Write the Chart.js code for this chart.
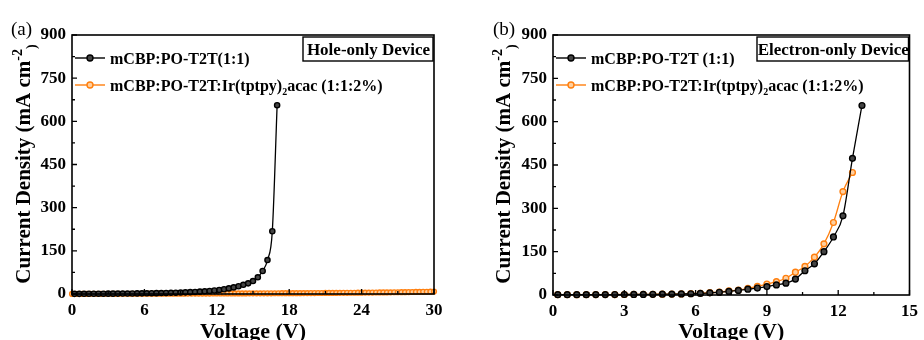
<!DOCTYPE html>
<html>
<head>
<meta charset="utf-8">
<script src="https://cdn.jsdelivr.net/npm/chart.js@4/dist/chart.umd.min.js"></script>
<style>
    body { margin: 0; background: #fff; }
    .panel { position: absolute; top: 0; height: 340px; }
    #panelA { left: 0; width: 450px; }
    #panelB { left: 480px; width: 444px; }
</style>
</head>
<body>
<div class="panel" id="panelA"><canvas id="holeChart" width="450" height="340"></canvas></div>
<div class="panel" id="panelB"><canvas id="electronChart" width="444" height="340"></canvas></div>
<script>
// ---- data ----
// (a) hole-only device
const holeHostV = [0.2, 0.6, 1.0, 1.4, 1.8, 2.2, 2.6, 3.0, 3.4, 3.8, 4.2, 4.6, 5.0, 5.4, 5.8, 6.2, 6.6, 7.0, 7.4, 7.8, 8.2, 8.6,
    9.0, 9.4, 9.8, 10.2, 10.6, 11.0, 11.4, 11.8, 12.2, 12.6, 13.0, 13.4, 13.8, 14.2, 14.6, 15.0, 15.4, 15.8, 16.2, 16.6, 17.0];
const holeHostJ = [0.5, 0.6, 0.7, 0.8, 0.9, 1.0, 1.1, 1.2, 1.3, 1.4, 1.5, 1.6, 1.8, 2.0, 2.2, 2.4, 2.7, 3.0, 3.3, 3.7, 4.1, 4.6,
    5.1, 5.7, 6.4, 7.2, 8.2, 9.3, 10.6, 12.2, 14, 16.5, 19.5, 23, 27, 32, 37, 45, 58, 80, 118, 218, 656];
const holeDopedV = [0, 0.3, 0.6, 0.9, 1.2, 1.5, 1.8, 2.1, 2.4, 2.7, 3.0, 3.3, 3.6, 3.9, 4.2, 4.5, 4.8, 5.1, 5.4, 5.7,
    6.0, 6.3, 6.6, 6.9, 7.2, 7.5, 7.8, 8.1, 8.4, 8.7, 9.0, 9.3, 9.6, 9.9, 10.2, 10.5, 10.8, 11.1, 11.4, 11.7,
    12.0, 12.3, 12.6, 12.9, 13.2, 13.5, 13.8, 14.1, 14.4, 14.7, 15.0, 15.3, 15.6, 15.9, 16.2, 16.5, 16.8, 17.1, 17.4, 17.7,
    18.0, 18.3, 18.6, 18.9, 19.2, 19.5, 19.8, 20.1, 20.4, 20.7, 21.0, 21.3, 21.6, 21.9, 22.2, 22.5, 22.8, 23.1, 23.4, 23.7,
    24.0, 24.3, 24.6, 24.9, 25.2, 25.5, 25.8, 26.1, 26.4, 26.7, 27.0, 27.3, 27.6, 27.9, 28.2, 28.5, 28.8, 29.1, 29.4, 29.7, 30.0];
const holeDopedJ = [0.3, 0.3, 0.4, 0.4, 0.4, 0.5, 0.5, 0.5, 0.6, 0.6, 0.6, 0.7, 0.7, 0.7, 0.8, 0.8, 0.8, 0.9, 0.9, 0.9,
    1.0, 1.0, 1.0, 1.1, 1.1, 1.1, 1.2, 1.2, 1.2, 1.3, 1.3, 1.3, 1.4, 1.4, 1.5, 1.5, 1.5, 1.6, 1.6, 1.7,
    1.7, 1.8, 1.8, 1.9, 1.9, 2.0, 2.0, 2.1, 2.1, 2.2, 2.2, 2.3, 2.3, 2.4, 2.5, 2.5, 2.6, 2.6, 2.7, 2.8,
    2.8, 2.9, 3.0, 3.0, 3.1, 3.2, 3.3, 3.3, 3.4, 3.5, 3.6, 3.7, 3.8, 3.9, 4.0, 4.1, 4.2, 4.3, 4.4, 4.5,
    4.6, 4.8, 4.9, 5.0, 5.2, 5.3, 5.5, 5.6, 5.8, 6.0, 6.1, 6.3, 6.5, 6.7, 6.9, 7.1, 7.4, 7.6, 7.9, 8.2, 8.5];

// (b) electron-only device
const elecHostV = [0.2, 0.6, 1.0, 1.4, 1.8, 2.2, 2.6, 3.0, 3.4, 3.8, 4.2, 4.6, 5.0, 5.4, 5.8, 6.2, 6.6,
    7.0, 7.4, 7.8, 8.2, 8.6, 9.0, 9.4, 9.8, 10.2, 10.6, 11.0, 11.4, 11.8, 12.2, 12.6, 13.0];
const elecHostJ = [1, 1, 1, 1.2, 1.3, 1.4, 1.5, 1.7, 1.9, 2.1, 2.4, 2.7, 3.1, 3.6, 4.3, 5.5, 7.5,
    9.5, 12.5, 16, 20, 24, 29, 35, 41, 55, 84, 108, 150, 201, 274, 473, 656];
const elecDopedV = [0.2, 0.6, 1.0, 1.4, 1.8, 2.2, 2.6, 3.0, 3.4, 3.8, 4.2, 4.6, 5.0, 5.4, 5.8, 6.2, 6.6,
    7.0, 7.4, 7.8, 8.2, 8.6, 9.0, 9.4, 9.8, 10.2, 10.6, 11.0, 11.4, 11.8, 12.2, 12.6];
const elecDopedJ = [1, 1, 1.1, 1.2, 1.3, 1.5, 1.6, 1.8, 2.0, 2.2, 2.5, 2.9, 3.3, 3.8, 4.5, 6, 8,
    10, 14, 17, 23, 30, 38, 46, 58, 79, 99, 131, 177, 251, 358, 424];

// axis ticks
const yTicks = [0, 150, 300, 450, 600, 750, 900];
const yMinor = [75, 225, 375, 525, 675, 825];
const holeXTicks = [0, 6, 12, 18, 24, 30];
const holeXMinor = [3, 9, 15, 21, 27];
const elecXTicks = [0, 3, 6, 9, 12, 15];
const elecXMinor = [1.5, 4.5, 7.5, 10.5, 13.5];

const hostLabel = [['mCBP:PO-T2T(1:1)', 0]];
const hostLabelB = [['mCBP:PO-T2T (1:1)', 0]];
const dopedLabel = [['mCBP:PO-T2T:Ir(tptpy)', 0], ['2', 1], ['acac (1:1:2%)', 0]];

const SERIF = '"Liberation Serif", "Times New Roman", serif';
const BLACK = '#000000';
const ORANGE = '#ff7f0e';
const BLACK_FILL = '#444444';
const ORANGE_FILL = '#ffcf9e';

function toPoints(xs, ys) {
    return xs.map((v, i) => ({ x: v, y: ys[i] }));
}

// text made of [string, mode] parts; mode 0 normal, 1 subscript, -1 superscript
function richWidth(ctx, parts, size) {
    let w = 0;
    parts.forEach(([t, m]) => {
        ctx.font = 'bold ' + (m ? Math.round(size * 0.65) : size) + 'px ' + SERIF;
        w += ctx.measureText(t).width;
    });
    return w;
}

function drawRich(ctx, parts, x, y, size) {
    parts.forEach(([t, m]) => {
        const s = m ? Math.round(size * 0.65) : size;
        ctx.font = 'bold ' + s + 'px ' + SERIF;
        const dy = m === 1 ? size * 0.3 : (m === -1 ? -size * 0.38 : 0);
        ctx.fillText(t, x, y + dy);
        x += ctx.measureText(t).width;
    });
}

const decorPlugin = {
    id: 'decor',
    afterDraw(chart, args, opts) {
        const { ctx, chartArea: a } = chart;
        const x = chart.scales.x, y = chart.scales.y;
        ctx.save();

        // frame
        ctx.strokeStyle = '#000';
        ctx.lineWidth = 1.6;
        ctx.strokeRect(a.left, a.top, a.right - a.left, a.bottom - a.top);

        // inward ticks
        ctx.lineWidth = 1.3;
        ctx.beginPath();
        opts.xMajor.forEach(v => { const p = x.getPixelForValue(v); ctx.moveTo(p, a.bottom); ctx.lineTo(p, a.bottom - 5); });
        opts.xMinor.forEach(v => { const p = x.getPixelForValue(v); ctx.moveTo(p, a.bottom); ctx.lineTo(p, a.bottom - 3); });
        yTicks.forEach(v => { const p = y.getPixelForValue(v); ctx.moveTo(a.left, p); ctx.lineTo(a.left + 5, p); });
        yMinor.forEach(v => { const p = y.getPixelForValue(v); ctx.moveTo(a.left, p); ctx.lineTo(a.left + 3, p); });
        ctx.stroke();

        ctx.fillStyle = '#000';
        ctx.textBaseline = 'alphabetic';

        // axis titles
        ctx.font = 'bold 22px ' + SERIF;
        ctx.textAlign = 'center';
        ctx.fillText('Voltage (V)', (a.left + a.right) / 2, 338);

        ctx.textAlign = 'left';
        const yTitle = [['Current Density (mA cm', 0], ['-2', -1], [')', 1]];
        ctx.save();
        ctx.translate(30, 164);
        ctx.rotate(-Math.PI / 2);
        drawRich(ctx, yTitle, -richWidth(ctx, yTitle, 21) / 2, 0, 21);
        ctx.restore();

        // panel letter
        ctx.font = '19px ' + SERIF;
        ctx.fillText(opts.panel, opts.panelX, 35);

        // boxed device label
        const b = opts.box;
        ctx.lineWidth = 1.4;
        ctx.strokeRect(b.left, a.top + 2, a.right - 1 - b.left, 24);
        ctx.font = 'bold 17px ' + SERIF;
        ctx.textAlign = 'center';
        ctx.fillText(b.text, (b.left + a.right) / 2, a.top + 19.5);
        ctx.textAlign = 'left';

        // legend
        opts.legend.forEach((item, i) => {
            const ly = 58 + i * 27;
            const lx = a.left + 3;
            ctx.strokeStyle = item.color;
            ctx.lineWidth = 1.4;
            ctx.beginPath();
            ctx.moveTo(lx, ly);
            ctx.lineTo(lx + 30, ly);
            ctx.stroke();
            ctx.beginPath();
            ctx.arc(lx + 15, ly, 3, 0, Math.PI * 2);
            ctx.fillStyle = item.fill;
            ctx.fill();
            ctx.stroke();
            ctx.fillStyle = '#000';
            drawRich(ctx, item.parts, lx + 35, ly + 5.5, 16);
        });
        ctx.restore();
    }
};

function lineSet(points, color, fill, radius) {
    return {
        data: points,
        borderColor: color,
        borderWidth: 1.3,
        pointRadius: radius,
        pointBorderWidth: 1.4,
        pointBorderColor: color,
        pointBackgroundColor: fill,
        pointHoverRadius: radius,
        cubicInterpolationMode: 'monotone',
        clip: 4
    };
}

function makeChart(canvasId, p) {
    new Chart(document.getElementById(canvasId), {
        type: 'line',
        data: { datasets: p.datasets },
        options: {
            responsive: false,
            animation: false,
            events: [],
            layout: { padding: { top: 35, right: p.padRight, left: 0, bottom: 0 } },
            plugins: {
                legend: { display: false },
                tooltip: { enabled: false },
                decor: p.decor
            },
            scales: {
                x: {
                    type: 'linear',
                    min: p.xMin,
                    max: p.xMax,
                    afterBuildTicks: s => { s.ticks = p.decor.xMajor.map(v => ({ value: v })); },
                    afterFit: s => { s.height = p.xHeight; },
                    grid: { display: false, drawTicks: false },
                    border: { display: false },
                    ticks: {
                        color: '#000',
                        padding: 6,
                        maxRotation: 0,
                        font: { family: SERIF, size: 17, weight: 'bold' }
                    }
                },
                y: {
                    min: 0,
                    max: 900,
                    afterBuildTicks: s => { s.ticks = yTicks.map(v => ({ value: v })); },
                    afterFit: s => { s.width = p.yWidth; },
                    grid: { display: false, drawTicks: false },
                    border: { display: false },
                    ticks: {
                        color: '#000',
                        padding: 6,
                        font: { family: SERIF, size: 17, weight: 'bold' }
                    }
                }
            }
        },
        plugins: [decorPlugin]
    });
}

makeChart('holeChart', {
    xMin: 0, xMax: 30, padRight: 16, xHeight: 46, yWidth: 72,
    datasets: [
        lineSet(toPoints(holeHostV, holeHostJ), BLACK, BLACK_FILL, 2.6),
        lineSet(toPoints(holeDopedV, holeDopedJ), ORANGE, ORANGE_FILL, 2.4)
    ],
    decor: {
        panel: '(a)', panelX: 11,
        xMajor: holeXTicks, xMinor: holeXMinor,
        box: { left: 303, text: 'Hole-only Device' },
        legend: [
            { parts: hostLabel, color: BLACK, fill: BLACK_FILL },
            { parts: dopedLabel, color: ORANGE, fill: ORANGE_FILL }
        ]
    }
});

makeChart('electronChart', {
    xMin: 0, xMax: 15, padRight: 8, xHeight: 45, yWidth: 73,
    datasets: [
        lineSet(toPoints(elecHostV, elecHostJ), BLACK, BLACK_FILL, 2.9),
        lineSet(toPoints(elecDopedV, elecDopedJ), ORANGE, ORANGE_FILL, 2.9)
    ],
    decor: {
        panel: '(b)', panelX: 13,
        xMajor: elecXTicks, xMinor: elecXMinor,
        box: { left: 277, text: 'Electron-only Device' },
        legend: [
            { parts: hostLabelB, color: BLACK, fill: BLACK_FILL },
            { parts: dopedLabel, color: ORANGE, fill: ORANGE_FILL }
        ]
    }
});
</script>
</body>
</html>
